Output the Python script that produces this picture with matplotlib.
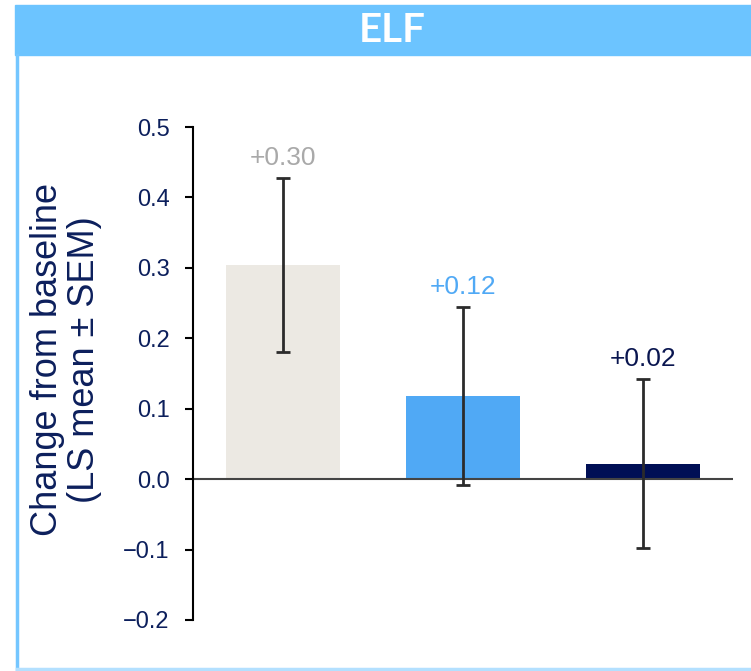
import numpy as np
import matplotlib
matplotlib.use("Agg")
from matplotlib import pyplot as plt
from matplotlib.patches import Rectangle
from matplotlib.lines import Line2D

plt.rcParams["font.family"] = ["Liberation Sans", "DejaVu Sans"]

groups = ["Group 1", "Group 2", "Group 3"]
means = [0.304, 0.118, 0.022]
sems = [0.123, 0.126, 0.120]
value_labels = ["+0.30", "+0.12", "+0.02"]
bar_colors = ["#ece9e3", "#50a9f5", "#000f55"]
label_colors = ["#a9a9a9", "#50a9f5", "#0a1650"]
yticks = [-0.2, -0.1, 0.0, 0.1, 0.2, 0.3, 0.4, 0.5]

navy = "#0c1f5c"
W, H = 751, 671

fig = plt.figure(figsize=(W / 100, H / 100), dpi=100)

# header band and frame
fig.patches.append(Rectangle((15 / W, 1 - 55 / H), 1 - 15 / W, 50 / H,
                             transform=fig.transFigure, color="#6cc4ff", zorder=0))
fig.lines.append(Line2D([17 / W, 17 / W], [1 - 55 / H, 1 - 669 / H],
                        transform=fig.transFigure, color="#74c6ff", lw=2.5))
fig.lines.append(Line2D([17 / W, 1], [1 - 669 / H, 1 - 669 / H],
                        transform=fig.transFigure, color="#b3e0ff", lw=2.5))
fig.text(392 / W, 1 - 30 / H, "ELF", color="white", fontsize=29,
         fontweight="bold", ha="center", va="center", family=["Lato"])

ax = fig.add_axes([193 / W, 1 - 620 / H, 540 / W, 493 / H])
x = np.arange(len(groups))
ax.bar(x, means, width=0.633, color=bar_colors, zorder=1)
ax.errorbar(x, means, yerr=sems, fmt="none", ecolor="#2b2b2b",
            elinewidth=2, capsize=5, capthick=2, zorder=3)
ax.axhline(0, color="#444444", lw=1.5, zorder=2)

for xi, m, s, lab, c in zip(x, means, sems, value_labels, label_colors):
    ax.text(xi, m + s + 0.019, lab, ha="center", va="baseline",
            color=c, fontsize=19)

ax.set_xlim(-0.5, 2.5)
ax.set_ylim(-0.2, 0.5)
ax.set_yticks(yticks)
ax.set_yticklabels([f"{t:.1f}".replace("-", "\u2212") for t in yticks])
ax.tick_params(axis="y", colors="black", labelcolor=navy, labelsize=17,
               length=6, width=1.5, pad=11)
ax.set_xticks([])
for sp in ["top", "right", "bottom"]:
    ax.spines[sp].set_visible(False)
ax.spines["left"].set_linewidth(1.5)

fig.text(66 / W, 1 - 360 / H, "Change from baseline\n(LS mean \u00b1 SEM)",
         rotation=90, ha="center", va="center", color=navy, fontsize=26,
         linespacing=1.05)

fig.savefig("out.png", dpi=100)
